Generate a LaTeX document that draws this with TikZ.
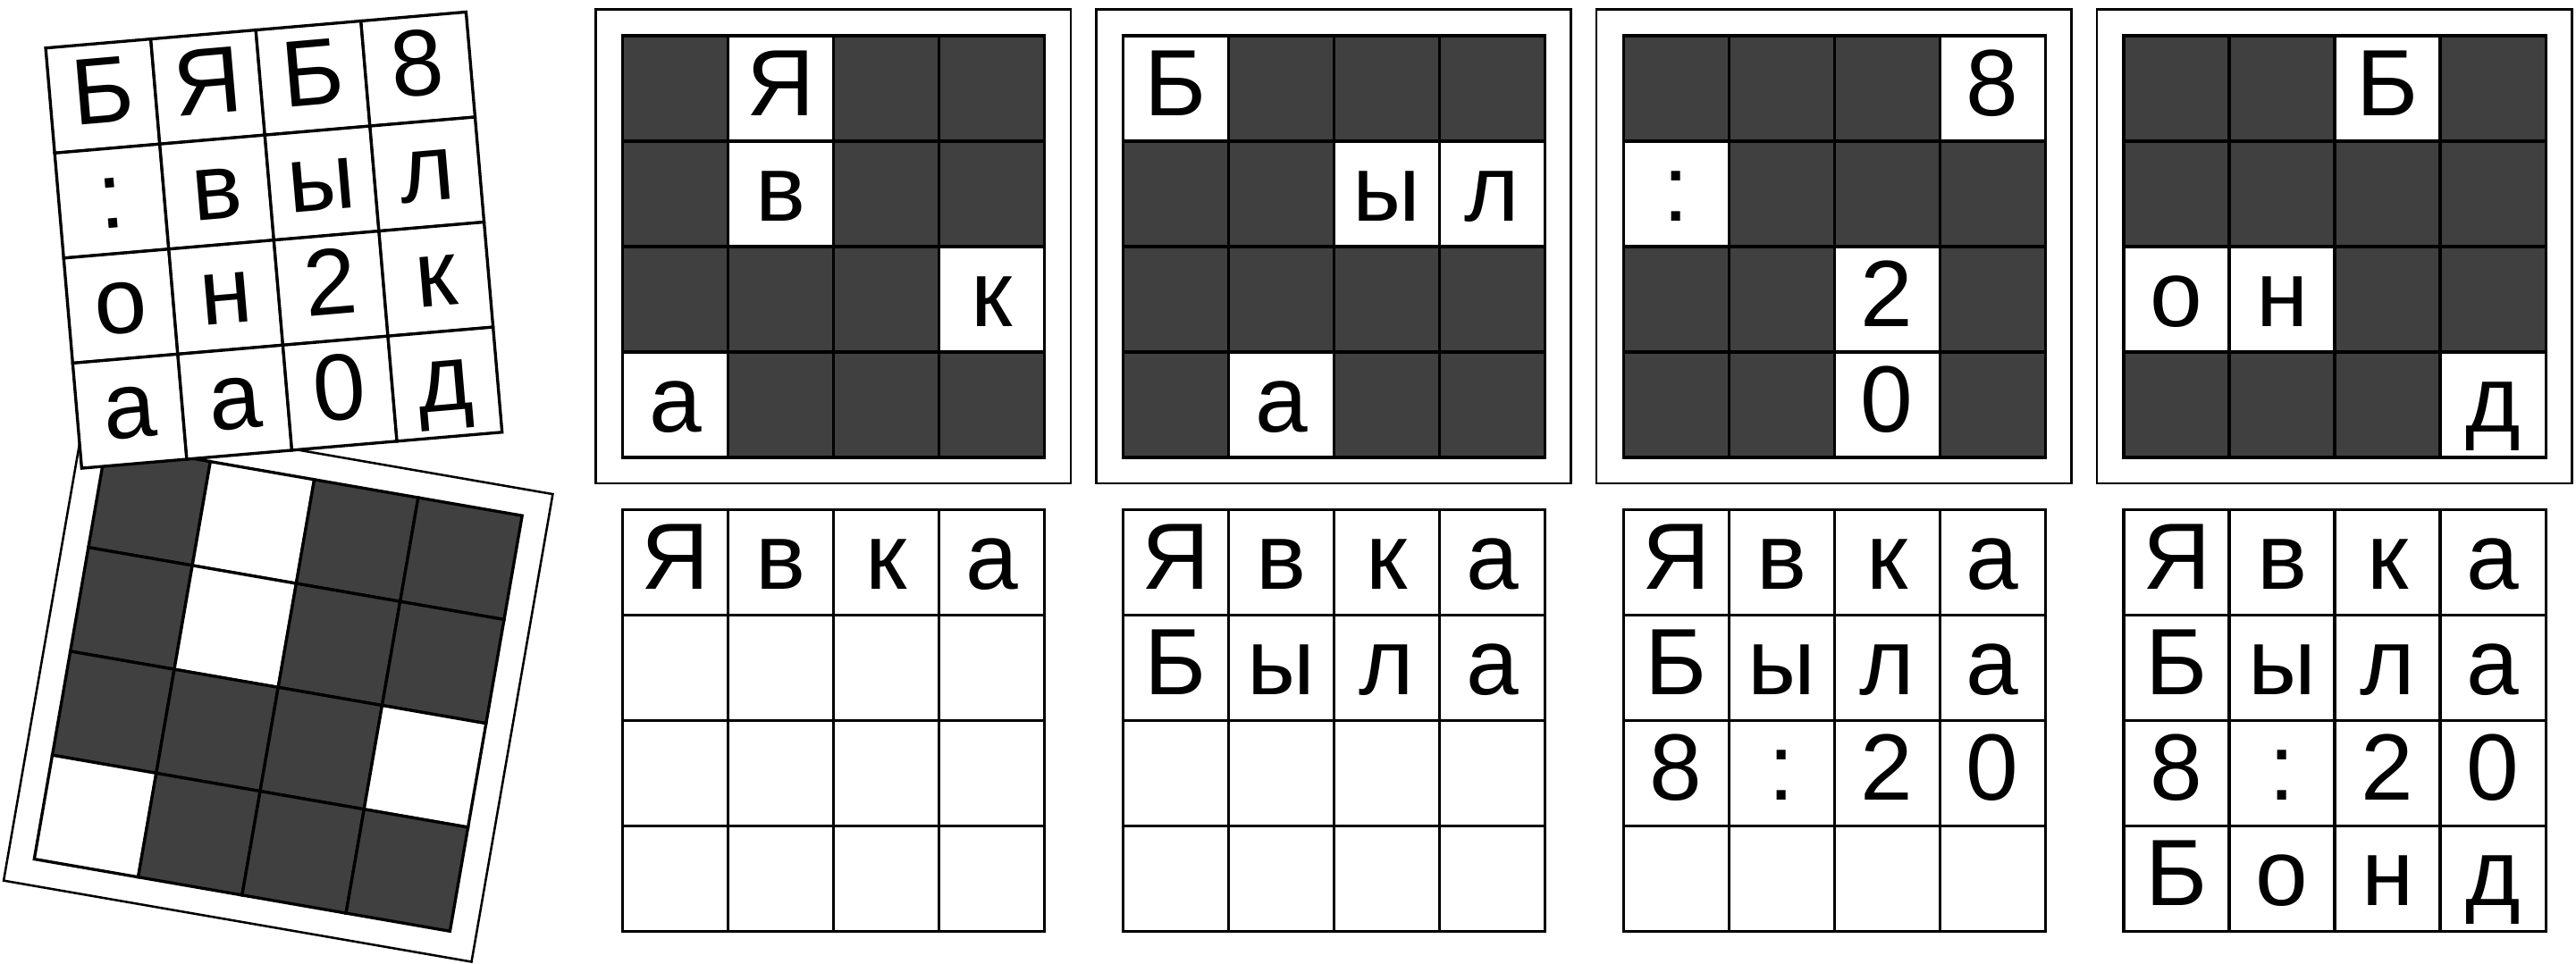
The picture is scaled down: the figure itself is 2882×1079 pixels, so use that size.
\documentclass[tikz,border=0pt]{standalone}
\usepackage{fontspec}
\setmainfont{Liberation Sans}
\definecolor{cellgray}{RGB}{64,64,64}
\def\dashmark{-}
\begin{document}
\begin{tikzpicture}[x=0.01cm,y=-0.01cm,
  cellbox/.style={draw=black, line width=0.95pt, minimum size=1.18cm, inner sep=0pt, outer sep=0pt,
    fill=white, text height=0.6cm, text depth=0pt, font=\fontsize{30}{35}\selectfont},
  darkcell/.style={cellbox, fill=cellgray},
  framebox/.style={draw=black, line width=0.72pt, fill=white, inner sep=0pt, outer sep=0pt,
    minimum width=5.31cm, minimum height=5.30cm},
]
\useasboundingbox (0,0) rectangle (2882,1079);

% top masked panels
\foreach \k/\cells in {0/{-,Я,-,-,-,в,-,-,-,-,-,к,а,-,-,-},
                       1/{Б,-,-,-,-,-,ы,л,-,-,-,-,-,а,-,-},
                       2/{-,-,-,8,:,-,-,-,-,-,2,-,-,-,0,-},
                       3/{-,-,Б,-,-,-,-,-,о,н,-,-,-,-,-,д}} {
  \node[framebox] (frame\k) at ({932.2+559.8*\k},275.9) {};
  \foreach \t [count=\i from 0] in \cells {
    \pgfmathtruncatemacro\r{div(\i,4)}
    \pgfmathtruncatemacro\c{mod(\i,4)}
    \ifx\t\dashmark
      \node[darkcell] (m\k-\r-\c) at ({755.7+559.8*\k+118*\c},{99+118*\r}) {};
    \else
      \node[cellbox] (m\k-\r-\c) at ({755.7+559.8*\k+118*\c},{99+118*\r}) {\t};
    \fi
  }
}

% bottom result grids
\foreach \k in {0,1,2,3} {
  \foreach \t [count=\i from 0] in {Я,в,к,а,Б,ы,л,а,8,:,2,0,Б,о,н,д} {
    \pgfmathtruncatemacro\r{div(\i,4)}
    \pgfmathtruncatemacro\c{mod(\i,4)}
    \ifnum\r>\k
      \node[cellbox] (g\k-\r-\c) at ({755.7+559.8*\k+118*\c},{629.5+118*\r}) {};
    \else
      \node[cellbox] (g\k-\r-\c) at ({755.7+559.8*\k+118*\c},{629.5+118*\r}) {\t};
    \fi
  }
}

% rotated mask (bottom left)
\begin{scope}[shift={(311.25,769.35)}, rotate=-9.85, transform shape]
  \node[framebox, minimum width=5.31cm, minimum height=5.31cm] (maskframe) at (0,0) {};
  \foreach \t [count=\i from 0] in {-,o,-,-,-,o,-,-,-,-,-,o,o,-,-,-} {
    \pgfmathtruncatemacro\r{div(\i,4)}
    \pgfmathtruncatemacro\c{mod(\i,4)}
    \ifx\t\dashmark
      \node[darkcell] (rm-\r-\c) at ({-177+118*\c},{-177+118*\r}) {};
    \else
      \node[cellbox] (rm-\r-\c) at ({-177+118*\c},{-177+118*\r}) {};
    \fi
  }
\end{scope}

% rotated letter card (top left)
\begin{scope}[shift={(306.4,268.75)}, rotate=4.9, transform shape]
  \foreach \t [count=\i from 0] in {Б,Я,Б,8,:,в,ы,л,о,н,2,к,а,а,0,д} {
    \pgfmathtruncatemacro\r{div(\i,4)}
    \pgfmathtruncatemacro\c{mod(\i,4)}
    \node[cellbox] (card-\r-\c) at ({-177+118*\c},{-177+118*\r}) {\t};
  }
\end{scope}
\end{tikzpicture}
\end{document}
